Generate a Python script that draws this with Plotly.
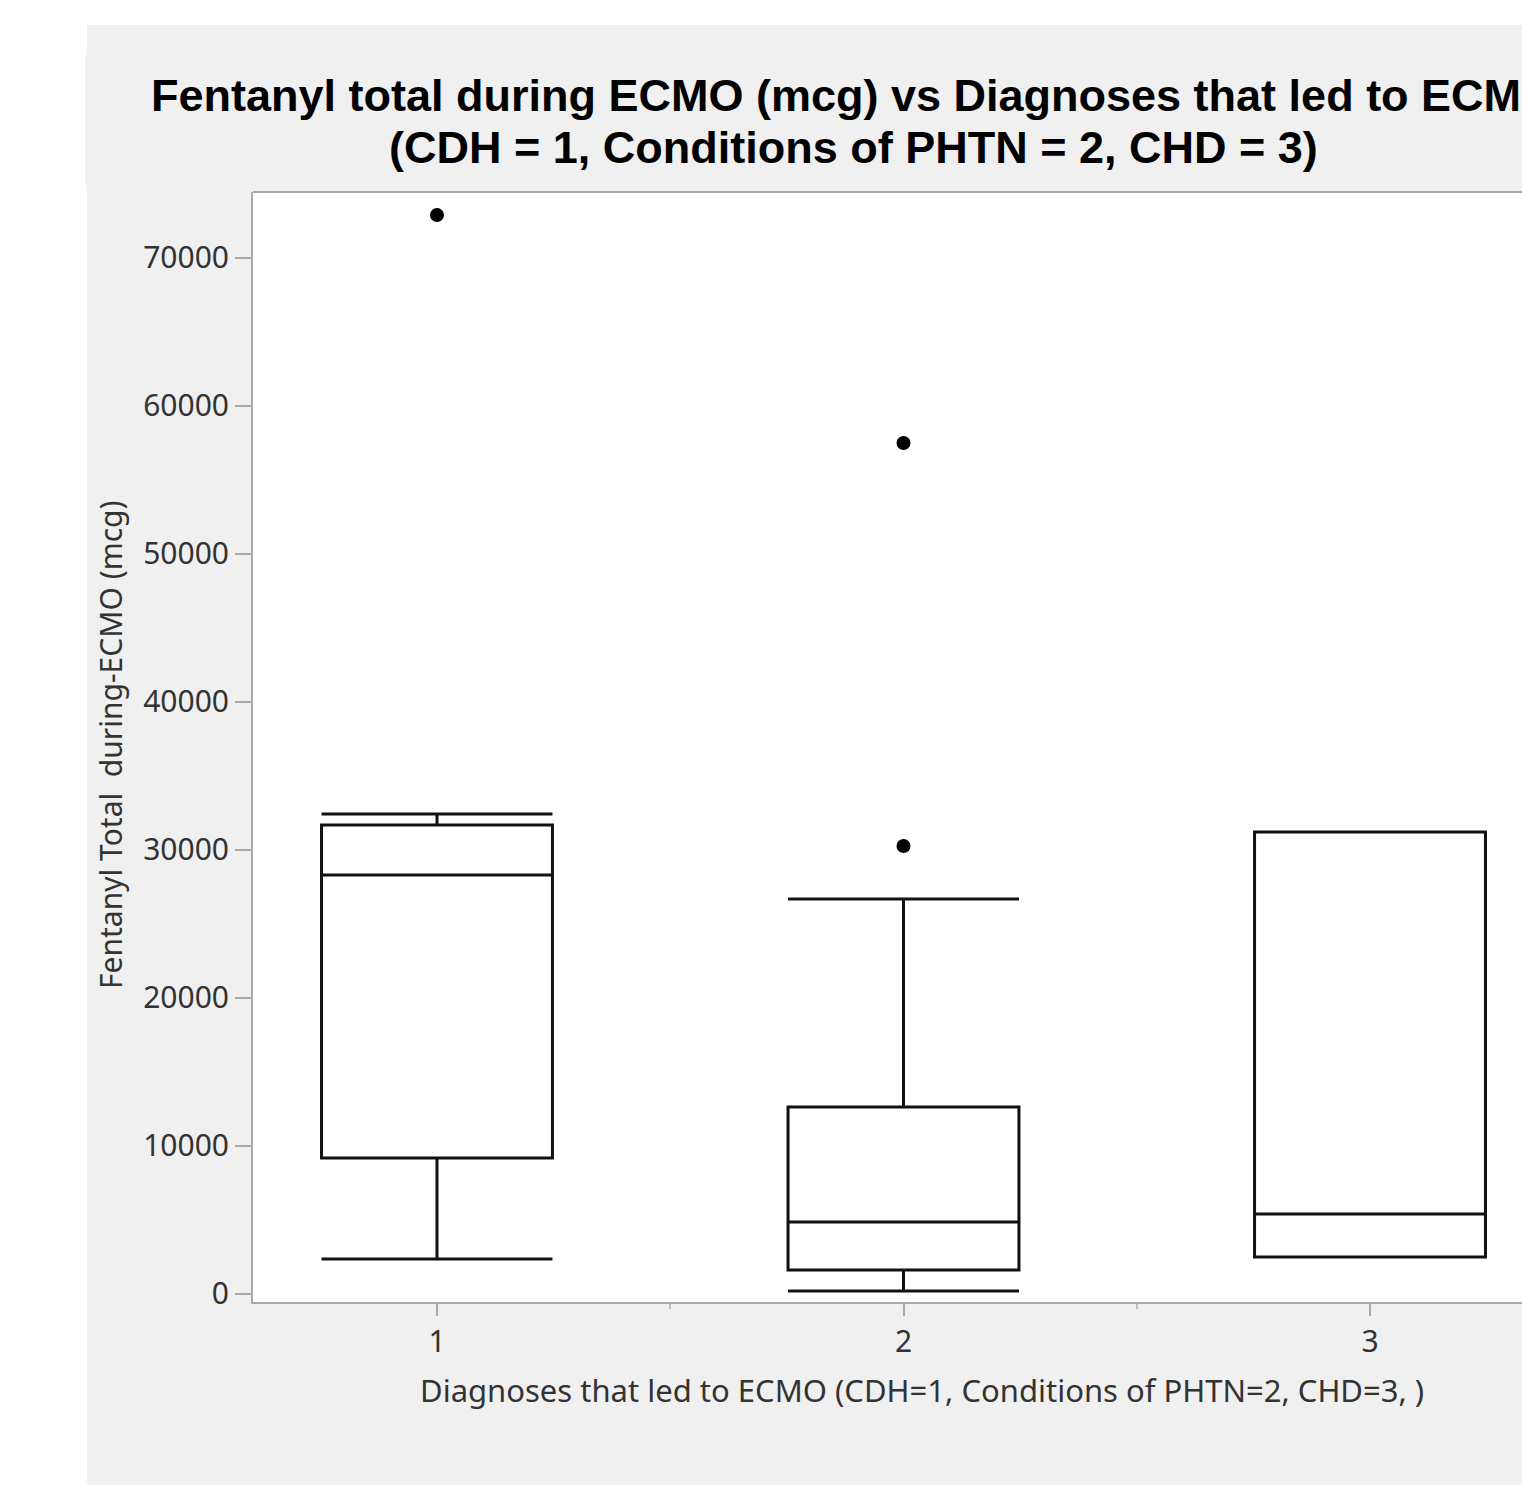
import plotly.graph_objects as go

# ---- data ----
categories = [1, 2, 3]
q1 = [9190, 1620, 2500]
median = [28310, 4860, 5400]
q3 = [31690, 12640, 31220]
lower_whisker = [2365, 200, 2500]
upper_whisker = [32430, 26690, 31220]
outlier_x = [1, 2, 2]
outlier_y = [72900, 57500, 30270]
y_ticks = [0, 10000, 20000, 30000, 40000, 50000, 60000, 70000]
x_tick_labels = ["1", "2", "3"]

title_line1 = "Fentanyl total during ECMO (mcg) vs Diagnoses that led to ECMO"
title_line2 = "(CDH = 1, Conditions of PHTN = 2, CHD = 3)"
x_title = "Diagnoses that led to ECMO (CDH=1, Conditions of PHTN=2, CHD=3, )"
y_title = "Fentanyl Total  during-ECMO (mcg)"

# ---- layout geometry (pixels) ----
W, H = 1522, 1485
L, R, T, B = 253, 1522, 192, 1302
pw, ph = R - L, B - T


def px(x):
    return (x - L) / pw


def py(y):
    return (B - y) / ph


fig = go.Figure()
for i, c in enumerate(categories):
    fig.add_trace(go.Box(
        x=[c], q1=[q1[i]], median=[median[i]], q3=[q3[i]],
        lowerfence=[lower_whisker[i]], upperfence=[upper_whisker[i]],
        width=0.495, whiskerwidth=1, boxpoints=False,
        fillcolor="white", line=dict(color="#111111", width=3),
        showlegend=False, hoverinfo="skip",
    ))

fig.add_trace(go.Scatter(
    x=outlier_x, y=outlier_y, mode="markers",
    marker=dict(color="black", size=14), showlegend=False,
))

axis_gray = "#a8a8a8"
sans = "Noto Sans, Open Sans, sans-serif"
tick_font = dict(family=sans, size=30, color="#333333")
ytitle_font = dict(family=sans, size=30, color="#333333")
xtitle_font = dict(family=sans, size=31, color="#333333")
title_font = dict(family="Liberation Sans, Arial, sans-serif", size=45, color="black")

fig.update_xaxes(
    range=[0.6056, 3.3258], tickvals=categories, ticktext=x_tick_labels,
    ticks="outside", ticklen=12, tickwidth=2, tickcolor=axis_gray,
    showline=True, linecolor=axis_gray, linewidth=2, showgrid=False, zeroline=False,
    tickfont=tick_font,
    minor=dict(tick0=0.5, dtick=1, ticks="outside", ticklen=5, tickwidth=1.5,
               tickcolor="#c0c0c0", showgrid=False),
)
fig.update_yaxes(
    range=[-541, 74459], tickvals=y_ticks, ticktext=[str(v) for v in y_ticks],
    ticks="outside", ticklen=16, tickwidth=2, tickcolor=axis_gray,
    showline=True, linecolor=axis_gray, linewidth=2, showgrid=False, zeroline=False,
    tickfont=tick_font,
)

shapes = [
    # white margin strips around the gray panel
    dict(type="rect", xref="paper", yref="paper", x0=px(-5), x1=px(87), y0=py(1500), y1=py(-5),
         fillcolor="white", line=dict(width=0), layer="below"),
    dict(type="rect", xref="paper", yref="paper", x0=px(-5), x1=px(1530), y0=py(25), y1=py(-5),
         fillcolor="white", line=dict(width=0), layer="below"),
    dict(type="rect", xref="paper", yref="paper", x0=px(85), x1=px(87), y0=py(185), y1=py(55),
         fillcolor="#f0f0f0", line=dict(width=0), layer="below"),
    # top frame line
    dict(type="line", xref="paper", yref="paper", x0=0, x1=1, y0=1, y1=1,
         line=dict(color=axis_gray, width=2)),
]

annotations = [
    dict(text=f"<b>{title_line1}</b>", xref="paper", yref="paper",
         x=px(853), y=py(95), xanchor="center", yanchor="middle", showarrow=False,
         font=title_font),
    dict(text=f"<b>{title_line2}</b>", xref="paper", yref="paper",
         x=px(853), y=py(148), xanchor="center", yanchor="middle", showarrow=False,
         font=title_font),
    dict(text=x_title, xref="paper", yref="paper", x=px(922), y=py(1390),
         xanchor="center", yanchor="middle", showarrow=False, font=xtitle_font),
    dict(text=y_title, xref="paper", yref="paper", x=px(110), y=py(745),
         xanchor="center", yanchor="middle", textangle=-90, showarrow=False, font=ytitle_font),
]

fig.update_layout(
    width=W, height=H,
    margin=dict(l=L, r=W - R, t=T, b=H - B, pad=0),
    paper_bgcolor="#f0f0f0", plot_bgcolor="white",
    shapes=shapes, annotations=annotations, showlegend=False,
)

fig.write_html(
    "out.html",
    config={"displayModeBar": False},
    post_script="document.body.style.margin='0';document.body.style.overflow='hidden';",
)
